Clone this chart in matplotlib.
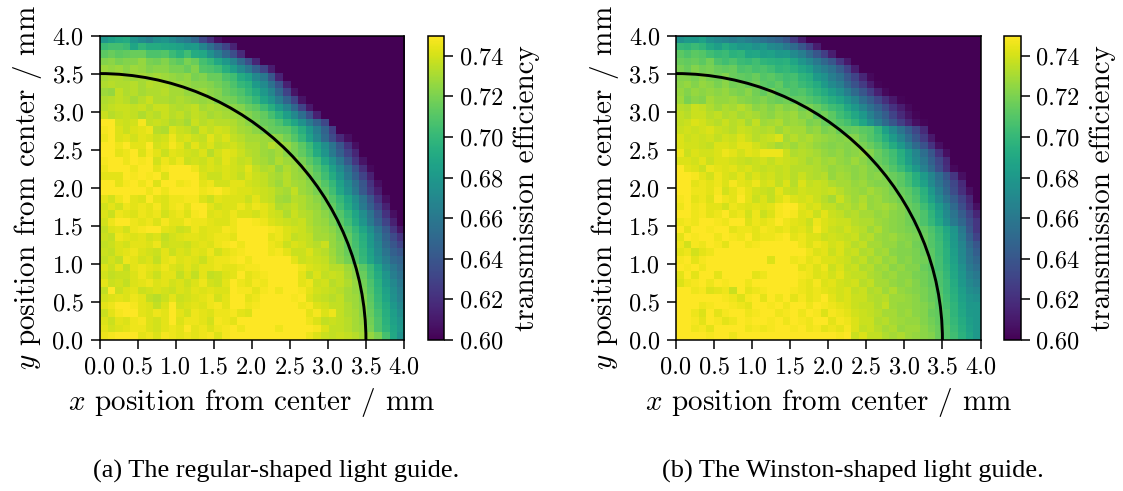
import numpy as np
import matplotlib
matplotlib.use('Agg')
import matplotlib.pyplot as plt

plt.rcParams['font.family'] = 'cmr10'
plt.rcParams['mathtext.fontset'] = 'cm'
plt.rcParams['axes.formatter.use_mathtext'] = True
plt.rcParams['axes.unicode_minus'] = False

# transmission efficiency in 1/1000, rows from y=3.95 down to y=0.05, columns x=0.05..3.95
regular = [
    [678,685,690,692,678,672,666,675,678,672,665,660,650,632,620,606] + [600]*24,
    [702,705,705,702,688,698,692,692,690,688,686,680,682,668,655,642,630,615] + [600]*22,
    [712,716,712,714,716,716,708,708,710,702,696,704,692,690,676,664,650,636,618] + [600]*21,
    [722,724,720,722,722,726,720,718,722,716,712,720,716,706,700,690,680,668,652,636,616] + [600]*19,
    [728,726,728,724,728,726,722,724,724,720,720,716,722,710,708,704,694,684,672,660,646,630,612] + [600]*17,
    [730,732,732,730,728,730,728,730,728,726,724,726,720,722,716,716,708,704,692,686,670,660,640,615] + [600]*16,
    [732,734,732,732,734,730,734,732,732,728,728,726,724,724,722,718,714,708,700,696,682,672,656,638,614] + [600]*15,
    [728,726,736,732,734,730,732,732,734,730,730,726,726,728,724,722,716,712,708,700,692,680,668,650,630,608] + [600]*14,
    [732,734,736,734,730,734,738,732,732,730,732,730,728,726,728,722,720,718,712,708,700,688,678,664,648,630,608] + [600]*13,
    [734,736,738,738,736,738,734,738,738,734,732,734,736,730,732,730,728,724,722,716,712,704,694,682,668,650,630,610] + [600]*12,
    [738,734,736,738,736,732,736,734,738,734,736,732,736,734,730,732,730,728,726,722,718,714,706,696,684,670,654,636,614] + [600]*11,
    [750,752,740,738,740,748,736,738,736,732,734,730,738,734,736,734,734,732,728,724,720,716,714,708,698,688,676,662,648,632] + [600]*10,
    [748,754,742,738,742,744,746,734,732,742,738,736,732,740,736,740,738,734,730,728,724,720,716,714,712,704,694,680,665,648,628] + [600]*9,
    [746,750,742,744,740,744,742,738,740,746,740,742,738,736,744,738,742,736,734,730,730,728,726,724,718,710,700,686,670,652,634,618,606] + [600]*7,
    [750,752,746,752,744,744,752,740,742,748,744,736,744,738,742,736,738,740,736,732,732,728,734,730,726,720,712,702,688,674,658,640,622,606] + [600]*6,
    [752,754,744,746,750,742,748,744,738,744,742,740,738,742,734,740,744,742,738,734,732,728,726,730,724,720,714,706,692,678,662,646,630,616] + [600]*6,
    [748,752,752,746,752,748,752,740,746,742,746,738,740,738,742,738,744,740,736,738,732,730,726,732,728,726,720,712,704,690,676,660,642,624,608] + [600]*5,
    [746,752,752,750,746,752,752,744,748,754,752,752,746,740,742,740,742,740,738,744,736,732,734,726,732,728,724,718,710,700,686,672,656,638,620,604] + [600]*4,
    [744,744,744,750,748,754,748,752,742,754,750,754,752,742,738,738,742,740,736,742,738,736,732,730,734,728,726,720,714,704,692,678,662,646,630,614] + [600]*4,
    [752,752,744,748,750,746,752,742,750,754,746,748,752,744,746,740,740,744,744,740,738,736,732,728,734,730,728,724,718,710,700,686,672,656,640,622,606] + [600]*3,
    [754,756,752,752,750,752,746,752,746,752,752,752,752,746,748,752,746,744,742,742,740,738,736,732,730,736,728,725,720,714,704,690,676,660,642,626,612] + [600]*3,
    [744,740,746,750,744,742,752,744,742,746,746,748,748,742,738,744,742,742,742,738,744,738,736,730,728,734,732,728,724,718,710,700,688,674,658,640,622,606] + [600]*2,
    [740,744,740,746,744,746,744,748,742,746,748,744,752,752,744,740,742,742,746,742,746,744,740,732,734,736,732,728,726,720,714,704,692,678,662,646,630,614] + [600]*2,
    [742,738,746,744,742,746,744,746,740,744,746,742,748,750,742,744,742,746,742,742,740,744,740,738,732,738,734,732,728,724,718,710,700,688,674,658,640,622,606] + [600]*1,
    [740,746,750,752,746,744,746,742,748,744,744,748,746,746,744,742,742,746,750,750,748,746,742,740,738,736,738,732,728,726,720,712,704,692,678,662,646,630,614] + [600]*1,
    [736,742,744,740,746,748,750,752,744,742,738,740,746,742,744,744,748,746,752,754,752,752,748,746,742,740,738,734,730,728,724,718,710,700,688,674,658,642,624,608],
    [738,736,746,744,742,744,740,742,736,740,742,744,744,742,744,746,746,744,752,754,752,752,744,746,742,736,738,736,730,730,726,720,714,704,694,680,664,648,634,622],
    [736,738,742,740,744,744,742,746,738,740,740,738,742,744,742,746,748,754,746,754,752,754,746,744,738,742,740,736,734,738,726,722,714,706,696,682,668,652,640,630],
    [738,736,742,744,746,742,740,738,744,738,742,740,744,742,746,740,744,746,748,752,752,752,746,748,744,738,738,742,736,734,728,722,716,708,698,686,672,658,646,640],
    [736,740,736,746,744,740,742,736,744,746,742,744,742,738,744,746,746,748,752,746,752,754,750,756,750,744,738,740,738,736,730,724,718,710,700,688,676,664,652,648],
    [742,738,744,736,744,746,744,742,746,742,740,744,740,744,744,746,744,744,746,748,748,752,752,754,752,752,746,742,740,738,734,734,728,722,712,702,688,672,660,652],
    [740,736,738,738,742,746,742,738,744,744,736,742,736,744,736,738,742,744,752,744,746,748,752,750,752,754,744,736,742,736,738,736,730,724,716,704,692,678,664,656],
    [744,738,740,736,742,744,746,742,744,740,742,738,742,746,740,738,744,752,746,744,748,746,752,754,752,750,744,746,738,740,734,736,732,726,718,708,696,682,670,660],
    [736,752,738,742,744,738,740,742,740,738,742,740,744,742,744,742,742,754,748,748,744,748,752,746,754,752,748,744,740,738,736,734,730,726,720,710,698,686,674,664],
    [740,742,744,742,746,744,736,734,738,744,738,740,742,744,746,740,744,754,750,744,746,750,754,752,752,748,750,742,738,736,734,736,730,728,722,712,700,688,676,666],
    [744,746,752,754,748,744,742,736,742,750,740,742,744,742,746,748,744,752,750,746,748,752,754,756,752,750,746,748,742,740,736,736,732,728,724,714,702,692,680,670],
    [738,744,748,750,752,744,742,746,744,752,744,740,746,744,742,746,746,748,744,742,752,754,752,754,754,752,752,744,748,742,746,736,732,730,724,716,706,694,684,674],
    [742,738,744,742,746,748,742,740,744,750,742,746,746,744,740,748,746,744,752,752,752,754,754,750,752,754,752,746,742,736,738,736,734,730,726,718,708,696,686,678],
    [744,740,742,744,746,746,742,740,744,746,744,752,744,746,742,746,748,750,746,750,752,756,754,746,752,756,754,752,748,742,736,736,734,730,728,720,708,698,688,680],
    [746,748,752,750,752,744,746,742,748,746,744,746,744,746,748,742,748,752,752,750,752,756,754,752,756,754,752,746,742,738,736,738,736,734,730,726,720,706,690,676],
]

winston = [
    [676,682,680,686,676,672,668,664,668,664,660,656,652,648,640,625,612] + [600]*23,
    [700,698,702,698,690,684,692,686,680,682,676,680,672,668,660,652,640,628,612] + [600]*21,
    [712,708,712,710,704,700,702,696,698,688,690,684,686,680,682,672,664,652,640,628,612] + [600]*19,
    [716,714,716,712,718,708,704,708,702,700,704,698,696,694,696,688,678,670,660,650,640,624,610] + [600]*17,
    [720,716,722,718,720,716,714,716,708,710,706,708,704,698,700,696,690,684,672,664,656,644,630,612] + [600]*16,
    [722,722,720,724,720,718,722,716,714,712,716,710,712,708,704,706,698,694,682,676,664,656,642,630,616,604] + [600]*14,
    [724,726,722,726,724,720,724,718,720,716,718,712,710,714,706,708,702,698,692,682,672,664,650,638,626,612,602] + [600]*13,
    [726,722,726,724,726,724,726,722,720,724,718,714,720,712,712,708,710,704,698,692,684,676,664,652,640,628,614,604] + [600]*12,
    [728,720,724,722,730,726,726,728,724,722,720,722,718,716,718,714,714,710,706,700,694,688,678,668,654,644,632,620,610,602] + [600]*10,
    [734,732,738,736,732,728,732,730,734,730,724,726,722,726,722,724,718,720,716,710,704,700,690,680,668,656,646,634,622,612,604] + [600]*9,
    [736,734,738,738,734,736,732,734,730,732,730,726,724,728,726,728,722,724,714,718,712,704,698,690,680,666,654,644,630,618,608,602] + [600]*8,
    [736,738,742,740,736,734,738,734,736,730,736,728,730,732,726,728,726,720,722,716,714,710,706,698,688,676,664,652,640,628,616,606,602] + [600]*7,
    [738,740,738,740,742,738,736,734,738,736,734,732,734,728,732,730,730,724,726,720,722,716,714,716,712,710,700,685,672,658,645,632,618] + [600]*7,
    [742,738,740,738,740,736,740,738,742,738,734,736,738,742,730,734,730,732,728,726,724,722,724,722,716,710,704,694,682,668,654,640,626,610] + [600]*6,
    [742,740,740,738,736,742,742,740,744,744,740,736,734,730,732,728,732,730,726,724,722,724,722,724,720,716,710,702,692,680,666,652,638,622,606] + [600]*5,
    [746,738,742,740,740,742,746,744,740,744,742,746,746,746,738,732,734,732,730,726,724,726,722,724,726,722,716,710,704,694,682,668,654,640,622,606] + [600]*4,
    [742,742,740,744,738,742,742,740,738,736,738,740,736,740,738,736,734,730,732,728,730,726,724,728,724,720,716,712,706,696,684,672,660,646,632,618] + [600]*4,
    [752,744,742,738,746,744,742,744,740,742,738,736,738,736,738,734,734,734,732,730,726,728,726,724,726,722,720,716,710,702,692,680,666,652,636,620,604] + [600]*3,
    [752,750,748,744,740,746,742,740,744,738,742,738,740,736,738,734,738,734,732,734,726,730,728,724,726,722,724,720,716,712,704,694,682,668,654,640,624,606] + [600]*2,
    [754,752,744,746,744,746,742,748,744,742,746,740,742,736,742,734,742,736,738,736,732,730,730,726,728,724,722,722,718,712,706,696,686,672,658,646,632,618] + [600]*2,
    [754,752,746,746,744,748,740,744,748,744,740,738,736,744,738,736,740,738,738,736,738,734,730,728,726,730,726,724,720,716,712,705,695,680,665,650,635,620,606] + [600]*1,
    [748,750,744,746,742,750,746,744,752,744,738,742,736,742,746,742,740,742,738,734,730,738,732,728,732,726,728,724,722,718,714,708,698,686,672,658,644,630,616] + [600]*1,
    [746,752,746,748,744,744,740,746,744,742,744,742,744,748,752,750,744,740,742,736,736,732,734,730,734,726,728,730,726,722,716,712,704,694,682,668,652,636,620,606],
    [752,750,746,748,744,746,752,744,746,740,746,738,742,748,752,748,742,744,738,744,738,736,732,734,730,730,726,728,724,722,718,714,708,698,686,672,658,644,630,616],
    [746,748,746,752,754,748,746,750,752,742,746,744,746,750,746,744,742,738,746,742,740,738,738,734,732,732,728,726,724,722,718,714,708,700,690,676,662,650,636,624],
    [752,744,752,750,748,752,750,744,746,746,744,748,746,744,746,742,744,740,748,742,738,736,740,736,734,728,732,726,724,722,720,718,714,708,700,690,678,660,640,624],
    [744,752,748,752,750,746,752,748,746,752,744,746,746,748,750,744,746,742,742,738,740,738,736,738,732,734,728,726,728,724,722,720,716,710,702,692,680,664,646,630],
    [746,740,748,746,750,748,744,752,754,746,748,752,752,754,752,750,746,742,746,744,740,742,738,734,736,730,730,726,726,722,724,718,716,710,704,694,682,668,652,640],
    [744,746,740,744,746,752,752,754,752,754,752,754,752,750,754,752,750,746,742,744,738,742,736,738,732,734,728,730,724,722,722,720,716,712,704,696,684,670,656,645],
    [748,752,744,748,750,752,754,752,754,752,756,752,742,754,752,746,748,744,746,742,742,740,738,734,736,730,732,726,728,722,724,720,718,712,706,696,686,672,658,650],
    [752,748,752,746,752,750,754,752,756,754,752,752,754,752,750,752,744,746,742,746,738,742,736,738,732,734,728,730,724,726,722,722,716,712,706,698,688,676,662,655],
    [744,752,744,752,750,744,752,754,752,750,744,746,752,756,754,752,748,746,742,744,740,744,738,736,736,732,730,726,728,724,724,720,718,714,708,700,690,678,666,660],
    [742,746,748,752,746,750,748,752,750,746,752,750,752,754,752,750,746,744,748,742,744,740,738,740,734,736,730,730,726,724,726,722,718,714,708,702,692,680,670,665],
    [752,752,746,748,742,744,746,738,752,744,746,748,754,756,752,748,746,744,746,744,742,740,742,736,738,732,734,728,732,726,724,722,720,716,710,702,694,684,674,670],
    [752,756,752,750,752,752,748,746,742,748,750,744,752,746,750,744,748,744,746,750,744,740,742,738,738,734,732,734,728,728,726,724,720,716,712,704,696,686,678,675],
    [754,756,750,746,748,752,750,748,746,744,752,750,748,752,746,750,752,746,750,748,746,744,742,738,736,736,732,736,728,726,726,724,722,718,712,706,698,688,680,680],
    [752,750,746,742,752,744,748,750,752,746,748,752,750,746,748,752,746,750,748,742,748,746,744,740,738,736,734,730,730,726,728,724,722,716,714,708,698,690,682,680],
    [752,754,748,744,752,748,744,746,752,748,752,750,748,752,746,752,748,746,752,750,744,748,746,742,738,738,732,734,730,728,726,726,722,718,714,708,700,692,684,680],
    [754,752,746,748,744,750,752,750,752,746,748,746,748,750,752,748,750,746,748,744,746,744,748,742,736,738,734,730,732,726,728,728,724,720,716,710,702,694,686,680],
    [752,756,752,754,748,752,754,746,752,754,750,752,752,754,752,750,754,752,754,750,752,748,750,738,742,736,736,732,730,732,728,726,724,722,716,710,704,696,688,680],
]

captions = ['(a) The regular-shaped light guide.', '(b) The Winston-shaped light guide.']
guide_radius = 3.5
ticks = np.arange(0, 4.01, 0.5)
cbar_ticks = [0.60, 0.62, 0.64, 0.66, 0.68, 0.70, 0.72, 0.74]

W, H = 1123.0, 491.0


def box(x0, y0, x1, y1):
    # pixel box of the reference -> figure fraction
    return [x0/W, 1 - y1/H, (x1 - x0)/W, (y1 - y0)/H]


fig = plt.figure(figsize=(W/100, H/100), dpi=100)

for i, (data, cap, left) in enumerate(zip([regular, winston], captions, [99.5, 676])):
    eff = np.array(data) / 1000.0
    ax = fig.add_axes(box(left, 35.5, left + 304.5, 340))
    im = ax.imshow(eff, extent=[0, 4, 0, 4], origin='upper', cmap='viridis',
                   vmin=0.6, vmax=0.75, aspect='auto', interpolation='nearest')
    ax.add_patch(plt.Circle((0, 0), guide_radius, fill=False, color='k', lw=2.1))
    ax.set_xlim(0, 4)
    ax.set_ylim(0, 4)
    ax.set_xticks(ticks)
    ax.set_yticks(ticks)
    ax.set_xticklabels(['%.1f' % t for t in ticks])
    ax.set_yticklabels(['%.1f' % t for t in ticks])
    ax.tick_params(labelsize=17.5, length=6.5, width=1.1, pad=5)
    for s in ax.spines.values():
        s.set_linewidth(1.1)
    ax.set_xlabel(r'$x$ position from center / mm', fontsize=21, labelpad=6)
    ax.set_ylabel(r'$y$ position from center / mm', fontsize=21, labelpad=6)

    cax = fig.add_axes(box(left + 328.5, 35.5, left + 344.5, 340))
    cb = fig.colorbar(im, cax=cax)
    cb.set_ticks(cbar_ticks)
    cb.set_ticklabels(['%.2f' % t for t in cbar_ticks])
    cb.ax.tick_params(labelsize=17.5, length=6.5, width=1.1, pad=5)
    cb.outline.set_linewidth(1.1)
    cb.set_label('transmission efficiency', fontsize=21, labelpad=7)

    fig.text((left + 176.5)/W, 1 - 471/H, cap, family='Liberation Serif', fontsize=19,
             ha='center', va='center')

fig.savefig('out.png', dpi=100)
